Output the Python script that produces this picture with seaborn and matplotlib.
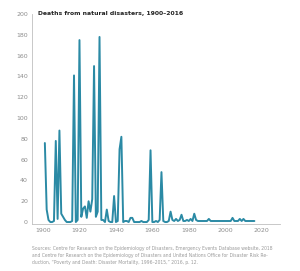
import matplotlib
matplotlib.use("Agg")
import matplotlib.pyplot as plt
import seaborn as sns
import pandas as pd

years = list(range(1901, 2017))
deaths = [
    76, 12, 2, 0, 0, 1, 78, 3, 88, 8,      # 1901-1910
    5, 2, 0, 0, 0, 1, 141, 0, 2, 175,      # 1911-1920
    5, 13, 15, 4, 20, 10, 22, 150, 5, 10,  # 1921-1930
    178, 2, 2, 0, 12, 1, 0, 0, 25, 0,      # 1931-1940
    1, 70, 82, 0, 1, 1, 0, 4, 4, 0,        # 1941-1950
    0, 0, 0, 1, 0, 0, 0, 2, 69, 0,         # 1951-1960
    0, 1, 0, 2, 48, 1, 0, 0, 1, 10,        # 1961-1970
    2, 1, 3, 1, 2, 7, 1, 1, 2, 1,          # 1971-1980
    3, 1, 8, 2, 1, 1, 1, 1, 1, 1,          # 1981-1990
    3, 1, 1, 1, 1, 1, 1, 1, 1, 1,          # 1991-2000
    1, 1, 1, 4, 1, 1, 1, 3, 1, 3,          # 2001-2010
    1, 1, 1, 1, 1, 1,                      # 2011-2016
]
x_ticks = [1900, 1920, 1940, 1960, 1980, 2000, 2020]
y_ticks = [0, 20, 40, 60, 80, 100, 120, 140, 160, 180, 200]
title = "Deaths from natural disasters, 1900\u20132016"
source = ("Sources: Centre for Research on the Epidemiology of Disasters, Emergency Events Database website, 2018\n"
          "and Centre for Research on the Epidemiology of Disasters and United Nations Office for Disaster Risk Re-\n"
          "duction, \u201cPoverty and Death: Disaster Mortality, 1996\u20132015,\u201d 2016, p. 12.")

df = pd.DataFrame({"year": years, "deaths": deaths})

sns.set_style("white")
plt.rcParams["font.family"] = ["DejaVu Sans"]

fig = plt.figure(figsize=(3.0, 2.71), dpi=100)
ax = fig.add_axes([0.107, 0.173, 0.826, 0.775])
sns.lineplot(data=df, x="year", y="deaths", ax=ax, color="#2b8aa5", linewidth=1.4)

ax.set_xlim(1894, 2030)
ax.set_ylim(-2, 200)
ax.set_xticks(x_ticks)
ax.set_yticks(y_ticks)
ax.set_xlabel("")
ax.set_ylabel("")
ax.tick_params(axis="both", length=0, labelsize=4.5, colors="#8c8c8c")
ax.tick_params(axis="y", pad=3)
ax.tick_params(axis="x", pad=3)
for s in ["top", "right"]:
    ax.spines[s].set_visible(False)
for s in ["left", "bottom"]:
    ax.spines[s].set_color("#bfbfbf")
    ax.spines[s].set_linewidth(0.6)

fig.text(38 / 300, 1 - 14 / 271, title, fontsize=4.4, fontweight="bold",
         color="#222222", ha="left", va="center")
fig.text(32 / 300, 1 - 246 / 271, source, fontsize=3.25, color="#9a9a9a",
         ha="left", va="top", linespacing=1.5)

fig.savefig("out.png", dpi=100)
